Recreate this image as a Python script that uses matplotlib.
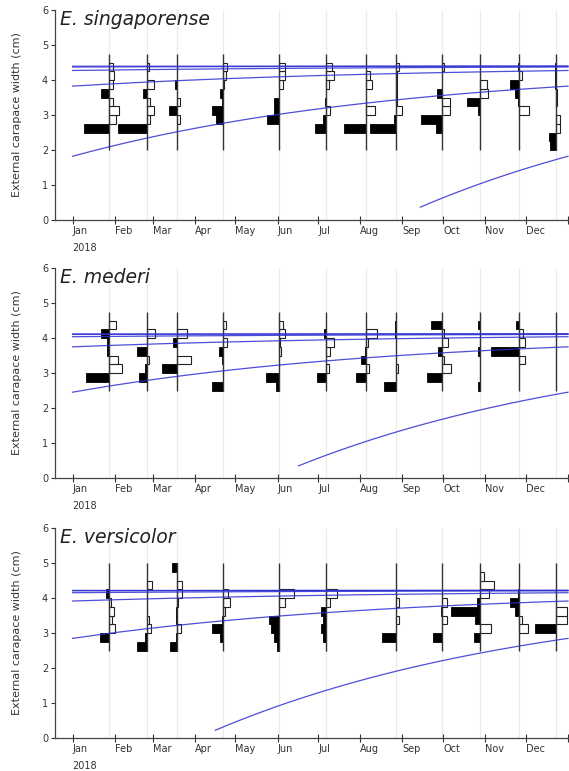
import numpy as np
import pandas as pd
import matplotlib
matplotlib.use('Agg')
import matplotlib.pyplot as plt

# sampling dates (2018)
dates_full = ['2018-01-28', '2018-02-25', '2018-03-19', '2018-04-22', '2018-06-02', '2018-07-07',
              '2018-08-05', '2018-08-27', '2018-09-30', '2018-10-28', '2018-11-26', '2018-12-23']
dates_vers = ['2018-01-28', '2018-02-25', '2018-03-19', '2018-04-22', '2018-06-02', '2018-07-07',
              '2018-08-27', '2018-09-30', '2018-10-28', '2018-11-26', '2018-12-23']

month_labels = ['Jan', 'Feb', 'Mar', 'Apr', 'May', 'Jun', 'Jul', 'Aug', 'Sep', 'Oct', 'Nov', 'Dec', '']

# restructured frequencies (positive = black, negative = white), low bin -> high bin
# E. singaporense, bins 2.0 .. 4.5 (width 0.25)
sing_bins = [2.0, 2.25, 2.5, 2.75, 3.0, 3.25, 3.5, 3.75, 4.0, 4.25, 4.5]
sing_scores = [
    [0, 0, 0.84, -0.24, -0.32, -0.13, 0.26, -0.11, -0.17, -0.13, 0],
    [0, 0, 0.96, -0.09, -0.24, -0.10, 0.14, -0.22, 0, -0.07, 0],
    [0, 0, 0, -0.08, 0.28, -0.11, 0, 0.06, 0, 0, 0],
    [0, 0, 0, 0.24, 0.37, 0.04, 0.12, -0.03, -0.10, -0.14, 0],
    [0, 0, 0, 0.41, 0.17, 0.17, 0, -0.13, -0.21, -0.21, 0],
    [0, 0, 0.37, 0.12, -0.13, 0.06, 0.03, -0.10, -0.27, -0.19, 0],
    [0, 0, 0.73, 0, -0.30, 0, 0, -0.22, -0.15, 0, 0],
    [0, 0, 0.84, 0.07, -0.22, -0.03, -0.03, -0.03, -0.03, -0.10, 0],
    [0, 0, 0.19, 0.69, -0.26, -0.26, 0.16, 0, 0, -0.07, 0],
    [0, 0, 0, 0, 0.07, 0.44, -0.29, -0.23, 0, 0, 0],
    [0, 0, 0, 0, -0.34, 0.03, 0.14, 0.30, -0.09, 0.03, 0],
    [0.18, 0.22, -0.13, -0.13, 0, -0.03, -0.03, 0.02, 0.02, 0.03, 0],
]

# E. mederi, bins 2.5 .. 4.5
med_bins = [2.5, 2.75, 3.0, 3.25, 3.5, 3.75, 4.0, 4.25, 4.5]
med_scores = [
    [0, 0.78, -0.43, -0.30, 0.07, 0.07, 0.26, -0.21, 0],
    [0, 0.26, 0.09, -0.05, 0.33, 0, -0.27, 0, 0],
    [0, 0, 0.50, -0.47, 0, 0.14, -0.33, 0, 0],
    [0.37, 0, 0, 0.03, 0.14, -0.13, 0, -0.08, 0],
    [0.11, 0.42, 0, 0, -0.06, -0.05, -0.19, -0.13, 0],
    [0, 0.31, -0.10, 0.03, -0.13, -0.24, 0.07, 0, 0],
    [0, 0.33, -0.11, 0.17, 0.03, -0.08, -0.36, 0, 0],
    [0.40, 0, -0.08, 0, 0, 0, 0.02, 0.03, 0],
    [0, 0.49, -0.31, -0.08, 0.11, -0.20, -0.07, 0.36, 0],
    [0.07, 0, 0, 0, 0.07, 0, 0, 0.07, 0],
    [0, 0, 0, -0.21, 0.95, -0.19, -0.13, 0.11, 0],
    [0, 0, 0, 0, 0, 0, 0, 0, 0],
]

# E. versicolor, bins 2.5 .. 4.75
vers_bins = [2.5, 2.75, 3.0, 3.25, 3.5, 3.75, 4.0, 4.25, 4.5, 4.75]
vers_scores = [
    [0, 0.31, -0.19, -0.08, -0.17, -0.07, 0.11, 0, 0, 0],
    [0.33, 0.09, -0.11, -0.07, 0, 0, 0.02, -0.17, 0, 0],
    [0.24, 0.03, -0.14, 0.03, 0.03, -0.03, -0.17, -0.17, 0, 0.17],
    [0, 0.11, 0.37, 0.03, -0.05, -0.22, -0.17, 0, 0, 0],
    [0.05, 0.17, 0.26, 0.33, 0, -0.21, -0.52, 0, 0, 0],
    [0.03, 0.10, 0.17, 0.11, 0.17, -0.13, -0.36, 0, 0, 0],
    [0, 0.47, 0, -0.11, 0, -0.11, 0, 0, 0, 0],
    [0, 0.28, 0, -0.18, 0.03, -0.18, 0, 0, 0, 0],
    [0, 0.19, -0.39, 0.17, 0.97, 0.10, -0.31, -0.48, -0.13, 0],
    [0, 0, -0.30, -0.10, 0.14, 0.29, 0.05, 0, 0, 0],
    [0, 0, 0.70, -0.38, -0.38, 0, 0, 0, 0, 0],
]

# VBGF growth curves: Linf (cm), K (1/yr), birth day of current cohort, first drawn day
linf = [4.40, 4.12, 4.22]
k_growth = [1.5, 1.5, 1.5]
birth_day = [235, 145, 92]
curve_start = [256, 166, 105]

species = ['E. singaporense', 'E. mederi', 'E. versicolor']

BIN_W = 0.25
HIST_SC = 22.1      # days per unit of restructured score
origin = pd.Timestamp('2018-01-01')


def to_day(ds):
    return np.array([(pd.Timestamp(d) - origin).days for d in ds])


month_days = to_day(pd.date_range('2018-01-01', '2019-01-01', freq='MS'))

fig = plt.figure(figsize=(5.69, 7.71), dpi=100)
W, H = 569.0, 771.0
px_per_day = 1.357
x0, x1 = -13, 378
bottoms_px = [220, 478, 738]

panels = [
    (dates_full, sing_bins, sing_scores),
    (dates_full, med_bins, med_scores),
    (dates_vers, vers_bins, vers_scores),
]

for p, (dts, bins, scores) in enumerate(panels):
    ax = fig.add_axes([55 / W, 1 - bottoms_px[p] / H, (x1 - x0) * px_per_day / W, 210 / H])
    ax.set_xlim(x0, x1)
    ax.set_ylim(0, 6)
    days = to_day(dts)
    lo = np.array(bins)

    # faint grid at sampling dates
    ax.vlines(days, 0, 6, color='#ebebeb', lw=0.8, zorder=0)

    for i, d in enumerate(days):
        sc = np.array(scores[i])
        pos = sc > 0
        neg = sc < 0
        ax.barh(lo[pos], sc[pos] * HIST_SC, left=d - sc[pos] * HIST_SC, height=BIN_W,
                align='edge', color='black', edgecolor='black', lw=0.6, zorder=2)
        ax.barh(lo[neg], -sc[neg] * HIST_SC, left=d, height=BIN_W,
                align='edge', color='white', edgecolor='#222222', lw=0.8, zorder=2)
        ax.vlines(d, lo[0], lo[-1] + BIN_W, color='#333333', lw=1.0, zorder=3)

    # growth curves for successive cohorts
    t = np.linspace(0, 365, 400)
    for c in range(6):
        b = birth_day[p] - 365 * c
        tt = t[t >= (curve_start[p] if c == 0 else 0)]
        L = linf[p] * (1 - np.exp(-k_growth[p] * (tt - b) / 365.0))
        ax.plot(tt, L, color='#2f2fd2', lw=0.9, alpha=0.85, zorder=4)

    ax.text(-9.5, 5.72, species[p], fontsize=13.5, style='italic', va='center', ha='left',
            color='#222222')

    for s in ['top', 'right']:
        ax.spines[s].set_visible(False)
    for s in ['left', 'bottom']:
        ax.spines[s].set_color('#444444')
        ax.spines[s].set_linewidth(0.9)

    ax.set_yticks(range(7))
    ax.tick_params(axis='y', direction='out', length=3, pad=2, labelsize=7, colors='#333333')
    ax.set_xticks(month_days)
    ax.set_xticklabels(month_labels, ha='left')
    ax.tick_params(axis='x', direction='inout', length=6, pad=1.5, labelsize=7, colors='#333333')

    ax.set_ylabel('External carapace width (cm)', fontsize=8, color='#333333')
    ax.yaxis.set_label_coords(-0.062, 0.5)

    ax.annotate('2018', xy=(0, 0), xycoords=('data', 'axes fraction'), xytext=(0, -28),
                textcoords='offset pixels', ha='left', va='center', fontsize=7, color='#333333')

fig.savefig('out.png', dpi=100)
